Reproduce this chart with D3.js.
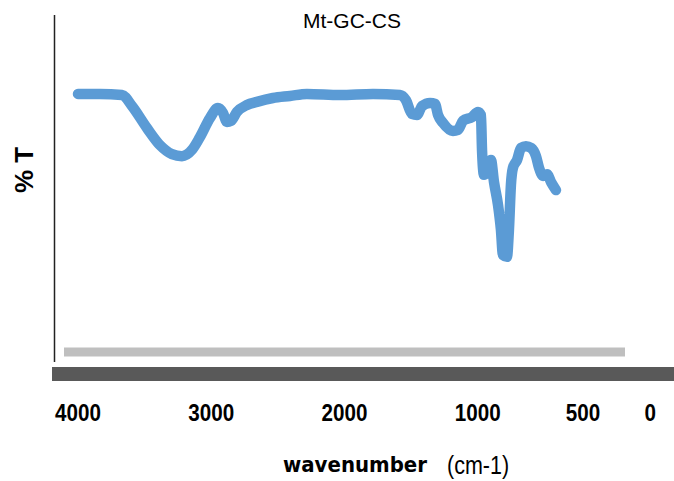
<!DOCTYPE html>
<html>
<head>
<meta charset="utf-8">
<script src="https://cdn.jsdelivr.net/npm/d3@7"></script>
<style>
  body { margin: 0; background: #fff; }
  svg { display: block; }
  .title { font-family: "Liberation Sans", Arial, sans-serif; font-size: 21px; fill: #000; }
  .tick-label { font-family: "Liberation Sans", Arial, sans-serif; font-weight: bold; font-size: 24px; fill: #000; }
  .ylabel { font-family: "Liberation Sans", Arial, sans-serif; font-weight: bold; font-size: 26px; fill: #000; }
  .xlabel-a { font-family: "DejaVu Sans", sans-serif; font-weight: bold; font-size: 22px; fill: #000; }
  .xlabel-b { font-family: "Liberation Sans", Arial, sans-serif; font-size: 25px; fill: #000; }
</style>
</head>
<body>
<script>

// FTIR spectrum of Mt-GC-CS
var wavenumber = [4000, 3835, 3670, 3595, 3482, 3385, 3295, 3220, 3145, 3085,
    3010, 2950, 2912, 2882, 2852, 2807, 2732, 2657, 2537, 2409,
    2282, 2034, 1786, 1584, 1539, 1494, 1456, 1418, 1358, 1321,
    1298, 1261, 1186, 1148, 1111, 1043, 998, 976, 968, 953,
    923, 901, 878, 848, 826, 811, 781, 766, 751, 736,
    705, 675, 638, 600, 563, 540, 510, 480, 450, 413];

var transmittance = [77.2, 77.2, 76.9, 73.7, 67.3, 62.4, 59.8, 59.2, 61.0, 64.7,
    70.2, 73.1, 71.7, 69.1, 69.4, 72.0, 74.0, 74.9, 76.0, 76.6,
    77.2, 76.9, 77.2, 76.9, 75.4, 71.4, 71.1, 73.7, 74.6, 74.3,
    71.1, 68.8, 66.5, 66.8, 69.4, 70.5, 72.0, 71.1, 61.0, 53.8,
    55.8, 58.1, 51.7, 45.1, 37.9, 30.6, 30.1, 37.9, 50.9, 55.8,
    58.1, 61.6, 62.1, 61.6, 59.2, 55.8, 53.5, 54.0, 51.7, 49.4];

// light grey baseline series
var baseWave = [4105, -105];
var baseValue = [2.6, 2.6];

// hand-placed tick labels (label text, wavenumber they sit at)
var tickText = ['4000', '3000', '2000', '1000', '500', '0'];
var tickAt = [4000, 3000, 2000, 1000, 210, -295];

var chartTitle = 'Mt-GC-CS';
var yTitle = '% T';
var xTitleA = 'wavenumber';
var xTitleB = '(cm-1)';

var width = 674, height = 481;

// narrow-font look, fonts here have no condensed face
var squeeze = 0.86;

var svg = d3.select('body').append('svg')
    .attr('width', width)
    .attr('height', height);

var x = d3.scaleLinear().domain([4000, 0]).range([78, 611]);
var y = d3.scaleLinear().domain([0, 100]).range([361, 15]);

var spectrum = d3.zip(wavenumber, transmittance);
var baseline = d3.zip(baseWave, baseValue);

var line = d3.line()
    .x(function(d) { return x(d[0]); })
    .y(function(d) { return y(d[1]); });

// y axis: plain line, no ticks
svg.append('line')
    .attr('x1', 54.5).attr('x2', 54.5)
    .attr('y1', y(100)).attr('y2', y(0) + 1)
    .attr('stroke', '#222')
    .attr('stroke-width', 1.5);

// grey baseline
svg.append('path')
    .datum(baseline)
    .attr('d', line)
    .attr('fill', 'none')
    .attr('stroke', '#bfbfbf')
    .attr('stroke-width', 9);

// heavy x axis bar
var xAxis = d3.axisBottom(x).tickValues([]).tickSizeOuter(0);
var gx = svg.append('g')
    .attr('transform', 'translate(0,374)')
    .call(xAxis);
gx.select('.domain')
    .attr('d', 'M52,0H' + width)
    .attr('stroke', '#595959')
    .attr('stroke-width', 14);

gx.selectAll('.tick-label')
    .data(d3.zip(tickText, tickAt))
    .enter()
    .append('text')
    .attr('class', 'tick-label')
    .attr('text-anchor', 'middle')
    .attr('transform', function(d) {
        return 'translate(' + x(d[1]) + ',47) scale(' + squeeze + ',1)';
    })
    .text(function(d) { return d[0]; });

// spectrum
svg.append('path')
    .datum(spectrum)
    .attr('d', line.curve(d3.curveMonotoneX))
    .attr('fill', 'none')
    .attr('stroke', '#5b9bd5')
    .attr('stroke-width', 10.5)
    .attr('stroke-linejoin', 'round')
    .attr('stroke-linecap', 'round');

// titles
svg.append('text')
    .attr('class', 'title')
    .attr('x', 352)
    .attr('y', 28)
    .attr('text-anchor', 'middle')
    .text(chartTitle);

svg.append('text')
    .attr('class', 'ylabel')
    .attr('text-anchor', 'middle')
    .attr('transform', 'translate(33,170) rotate(-90)')
    .text(yTitle);

svg.append('text')
    .attr('class', 'xlabel-a')
    .attr('transform', 'translate(283,472) scale(0.9,1)')
    .text(xTitleA);

svg.append('text')
    .attr('class', 'xlabel-b')
    .attr('transform', 'translate(447,474) scale(' + squeeze + ',1)')
    .text(xTitleB);

</script>
</body>
</html>
